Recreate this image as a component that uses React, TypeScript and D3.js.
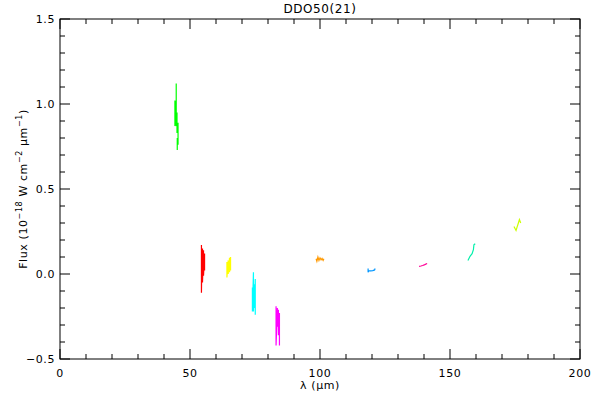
import * as d3 from 'd3';

// DDO50(21) – flux segments
const TITLE = 'DDO50(21)';
const X_TICKS = [0, 50, 100, 150, 200];
const Y_TICKS = [-0.5, 0.0, 0.5, 1.0, 1.5];

const greenLam = [44.7, 44.7, 44.2, 44.2, 44.7, 44.7, 45.0, 45.0, 45.4, 45.4, 45.1, 45.1];
const greenFlux = [1.12, 0.95, 1.02, 0.87, 0.99, 0.87, 0.95, 0.83, 0.89, 0.76, 0.8, 0.73];

const redLam = [54.4, 54.4, 54.5, 54.8, 54.8, 55.2, 55.2, 55.6, 55.6];
const redFlux = [0.17, -0.11, 0.0, 0.15, -0.05, 0.14, -0.01, 0.12, 0.02];

const yellowLam = [64.2, 64.2, 64.7, 64.7, 65.2, 65.2, 65.6, 65.6];
const yellowFlux = [0.07, -0.02, 0.08, 0.0, 0.095, 0.01, 0.1, 0.02];

const cyanLam = [74.0, 74.0, 74.4, 74.4, 74.8, 74.8, 75.1, 75.1];
const cyanFlux = [-0.08, -0.22, 0.01, -0.22, -0.06, -0.2, -0.03, -0.24];

const magentaLam = [83.1, 83.1, 83.6, 83.6, 84.0, 84.0, 84.4, 84.4];
const magentaFlux = [-0.19, -0.42, -0.2, -0.31, -0.21, -0.36, -0.23, -0.42];

const orangeLam = [98.5, 98.8, 99.2, 99.6, 100.0, 100.4, 100.8, 101.2, 101.5];
const orangeFlux = [0.09, 0.075, 0.1, 0.08, 0.095, 0.083, 0.092, 0.08, 0.09];

const blueLam = [118.5, 118.5, 118.8, 119.5, 120.3, 121.0, 121.2];
const blueFlux = [0.032, 0.01, 0.02, 0.018, 0.02, 0.024, 0.032];

const pinkLam = [138.1, 138.8, 139.5, 140.3, 141.2];
const pinkFlux = [0.045, 0.047, 0.05, 0.055, 0.062];

const tealLam = [156.9, 157.7, 158.5, 159.0, 159.2, 159.7];
const tealFlux = [0.08, 0.104, 0.12, 0.143, 0.172, 0.178];

const limeLam = [174.6, 175.4, 175.8, 176.3, 176.7, 177.2];
const limeFlux = [0.28, 0.256, 0.276, 0.3, 0.32, 0.3];

const segments = [
  { lam: greenLam, flux: greenFlux, color: '#00ff00' },
  { lam: redLam, flux: redFlux, color: '#ff0000' },
  { lam: yellowLam, flux: yellowFlux, color: '#ffff00' },
  { lam: cyanLam, flux: cyanFlux, color: '#00ffff' },
  { lam: magentaLam, flux: magentaFlux, color: '#ff00ff' },
  { lam: orangeLam, flux: orangeFlux, color: '#ff9900' },
  { lam: blueLam, flux: blueFlux, color: '#0096ff' },
  { lam: pinkLam, flux: pinkFlux, color: '#ff0096' },
  { lam: tealLam, flux: tealFlux, color: '#00f0aa' },
  { lam: limeLam, flux: limeFlux, color: '#ccff00' },
];

const W = 600;
const H = 400;
const margin = { top: 19, right: 20, bottom: 41, left: 60 };
const FONT = '"DejaVu Sans", "Liberation Sans", sans-serif';
const LS = 0.6;

export default function App() {
  const x = d3.scaleLinear().domain([0, 200]).range([margin.left, W - margin.right]);
  const y = d3.scaleLinear().domain([-0.5, 1.5]).range([H - margin.bottom, margin.top]);
  const [x0, x1] = x.range();
  const [y0, y1] = y.range(); // y0 bottom, y1 top

  const xMinor = d3.range(0, 201, 10).filter((v) => v % 50 !== 0);
  const yMinor = d3.range(-5, 16).map((v) => v / 10).filter((v) => Math.round(v * 10) % 5 !== 0);

  const line = d3.line<[number, number]>().x((d) => x(d[0])).y((d) => y(d[1]));

  const fmtY = (v: number) => (v < 0 ? '\u2212' + Math.abs(v).toFixed(1) : v.toFixed(1));

  return (
    <svg width={W} height={H} style={{ position: 'absolute', left: 0, top: 0, background: '#fff' }}>
      {/* frame */}
      <rect x={x0} y={y1} width={x1 - x0} height={y0 - y1} fill="none" stroke="#000" strokeWidth={1} />

      {/* x ticks top & bottom */}
      {X_TICKS.map((v) => (
        <g key={'xm' + v}>
          <line x1={x(v)} x2={x(v)} y1={y0} y2={y0 - 10} stroke="#000" />
          <line x1={x(v)} x2={x(v)} y1={y1} y2={y1 + 10} stroke="#000" />
        </g>
      ))}
      {xMinor.map((v) => (
        <g key={'xn' + v}>
          <line x1={x(v)} x2={x(v)} y1={y0} y2={y0 - 5} stroke="#000" />
          <line x1={x(v)} x2={x(v)} y1={y1} y2={y1 + 5} stroke="#000" />
        </g>
      ))}

      {/* y ticks left & right */}
      {Y_TICKS.map((v) => (
        <g key={'ym' + v}>
          <line x1={x0} x2={x0 + 10} y1={y(v)} y2={y(v)} stroke="#000" />
          <line x1={x1} x2={x1 - 10} y1={y(v)} y2={y(v)} stroke="#000" />
        </g>
      ))}
      {yMinor.map((v) => (
        <g key={'yn' + v}>
          <line x1={x0} x2={x0 + 5} y1={y(v)} y2={y(v)} stroke="#000" />
          <line x1={x1} x2={x1 - 5} y1={y(v)} y2={y(v)} stroke="#000" />
        </g>
      ))}

      {/* tick labels */}
      {X_TICKS.map((v) => (
        <text key={'xl' + v} x={x(v)} y={y0 + 18} textAnchor="middle" fontFamily={FONT} fontSize={11} letterSpacing={LS}>
          {v}
        </text>
      ))}
      {Y_TICKS.map((v) => (
        <text key={'yl' + v} x={x0 - 5} y={y(v) + 4} textAnchor="end" fontFamily={FONT} fontSize={11} letterSpacing={LS}>
          {fmtY(v)}
        </text>
      ))}

      {/* data */}
      {segments.map((s, i) => (
        <path
          key={i}
          d={line(s.lam.map((l, j) => [l, s.flux[j]] as [number, number])) ?? ''}
          fill="none"
          stroke={s.color}
          strokeWidth={1.2}
        />
      ))}

      {/* titles */}
      <text x={(x0 + x1) / 2} y={13} textAnchor="middle" fontFamily={FONT} fontSize={12} letterSpacing={LS}>
        {TITLE}
      </text>
      <text x={(x0 + x1) / 2} y={389} textAnchor="middle" fontFamily={FONT} fontSize={11} letterSpacing={LS}>
        λ (µm)
      </text>
      <text
        transform={`translate(27,${(y0 + y1) / 2}) rotate(-90)`}
        textAnchor="middle"
        fontFamily={FONT}
        fontSize={11}
        letterSpacing={LS}
      >
        Flux (10<tspan fontSize={8} dy={-5}>−18</tspan>
        <tspan dy={5}> W cm</tspan>
        <tspan fontSize={8} dy={-5}>−2</tspan>
        <tspan dy={5}> µm</tspan>
        <tspan fontSize={8} dy={-5}>−1</tspan>
        <tspan dy={5}>)</tspan>
      </text>
    </svg>
  );
}
